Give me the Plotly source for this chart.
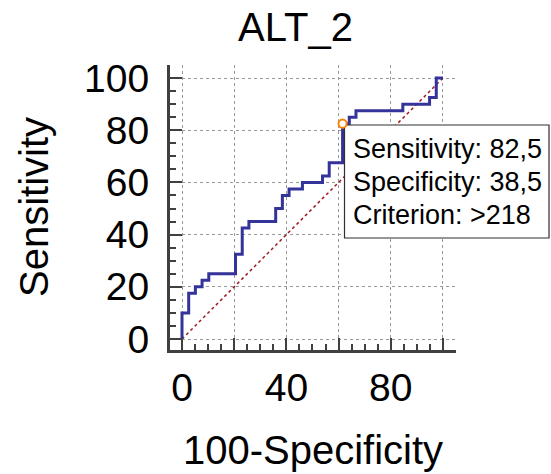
import plotly.graph_objects as go

# ROC step corners (100-Specificity, Sensitivity), drawn vertical-then-horizontal
fpr = [0, 2.56, 5.13, 7.69, 10.26, 20.51, 23.08, 25.64, 35.9, 38.46, 41.03,
       46.15, 53.85, 56.41, 61.54, 64.1, 66.67, 84.62, 94.87, 97.44, 100]
tpr = [0, 10, 17.5, 20, 22.5, 25, 32.5, 42.5, 45, 50, 55,
       57.5, 60, 62.5, 67.5, 82.5, 85, 87.5, 90, 92.5, 100]
diag_x = [0, 100]
diag_y = [0, 100]
opt_x = [61.54]
opt_y = [82.5]
x_tickvals = [0, 20, 40, 60, 80, 100]
x_ticktext = ["0", "", "40", "", "80", ""]
y_tickvals = [0, 20, 40, 60, 80, 100]
y_ticktext = ["0", "20", "40", "60", "80", "100"]
title_text = "ALT_2"
x_title = "100-Specificity"
y_title = "Sensitivity"
info_lines = ["Sensitivity: 82,5", "Specificity: 38,5", "Criterion: >218"]

FONT = "Liberation Sans, Arial, sans-serif"

fig = go.Figure()
fig.add_trace(go.Scatter(x=diag_x, y=diag_y, mode="lines",
                         line=dict(color="#a01818", width=1.5, dash="dot"),
                         hoverinfo="skip", showlegend=False))
fig.add_trace(go.Scatter(x=fpr, y=tpr, mode="lines", line_shape="vh",
                         line=dict(color="#333399", width=3),
                         showlegend=False))
fig.add_trace(go.Scatter(x=opt_x, y=opt_y, mode="markers",
                         marker=dict(symbol="circle-open", size=8,
                                     color="#ff8000", line=dict(width=1.8)),
                         showlegend=False))

L, R, T, B = 170, 95, 65, 124
W, H = 551, 474
pw = W - L - R
ph = H - T - B

def px_to_paper_x(px):
    return (px - L) / pw

def px_to_paper_y(py):
    return (H - B - py) / ph

axis_common = dict(
    showline=True, linecolor="#404040", linewidth=3,
    ticks="inside", ticklen=12, tickwidth=2, tickcolor="#404040",
    showgrid=True, gridcolor="#999999", gridwidth=1, griddash="3px,3px",
    zeroline=False,
    tickfont=dict(family=FONT, size=39, color="black"),
    minor=dict(dtick=5, tick0=0, ticks="inside", ticklen=6, tickwidth=1.5,
               tickcolor="#404040", showgrid=False),
)

fig.update_layout(
    width=W, height=H,
    margin=dict(l=L, r=R, t=T, b=B, pad=0),
    paper_bgcolor="white", plot_bgcolor="white",
    font=dict(family=FONT, color="black"),
    xaxis=dict(range=[-4.6, 105], tickmode="array", tickvals=x_tickvals,
               ticktext=x_ticktext, ticklabelstandoff=1, **axis_common),
    yaxis=dict(range=[-4.2, 105], tickmode="array", tickvals=y_tickvals,
               ticktext=y_ticktext, ticklabelstandoff=10, **axis_common),
)

# info box
fig.add_shape(type="rect", xref="paper", yref="paper",
              x0=px_to_paper_x(344.5), x1=px_to_paper_x(549),
              y0=px_to_paper_y(238), y1=px_to_paper_y(125),
              line=dict(color="#303030", width=1.2), fillcolor="white",
              layer="above")
# optimal-criterion marker redrawn on top of the box corner
fig.add_shape(type="circle", xref="x", yref="y",
              xsizemode="pixel", ysizemode="pixel",
              xanchor=opt_x[0], yanchor=opt_y[0],
              x0=-4, x1=4, y0=-4, y1=4,
              line=dict(color="#ff8000", width=1.8), fillcolor="white",
              layer="above")
for i, line in enumerate(info_lines):
    fig.add_annotation(text=line, xref="paper", yref="paper",
                       x=px_to_paper_x(351), y=px_to_paper_y(149 + 33 * i),
                       xanchor="left", yanchor="middle", showarrow=False,
                       font=dict(family=FONT, size=27, color="black"))

fig.add_annotation(text=title_text, xref="paper", yref="paper",
                   x=px_to_paper_x(295), y=px_to_paper_y(27),
                   xanchor="center", yanchor="middle", showarrow=False,
                   font=dict(family=FONT, size=40, color="black"))
fig.add_annotation(text=x_title, xref="paper", yref="paper",
                   x=px_to_paper_x(313), y=px_to_paper_y(450),
                   xanchor="center", yanchor="middle", showarrow=False,
                   font=dict(family=FONT, size=40, color="black"))
fig.add_annotation(text=y_title, xref="paper", yref="paper",
                   x=px_to_paper_x(34), y=px_to_paper_y(207),
                   xanchor="center", yanchor="middle", showarrow=False,
                   textangle=-90,
                   font=dict(family=FONT, size=40, color="black"))

fig.write_html("out.html")
